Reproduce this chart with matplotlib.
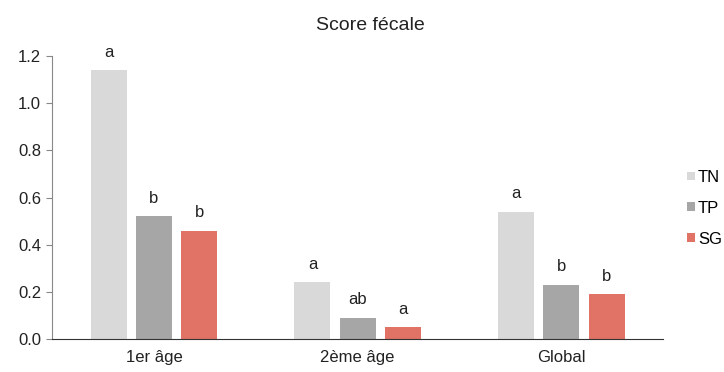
import numpy as np
import matplotlib.pyplot as plt

plt.rcParams['font.family'] = ['Liberation Sans', 'DejaVu Sans']

categories = ['1er âge', '2ème âge', 'Global']
series = ['TN', 'TP', 'SG']
values = {
    'TN': [1.14, 0.24, 0.54],
    'TP': [0.52, 0.09, 0.23],
    'SG': [0.46, 0.05, 0.19],
}
letters = {
    'TN': ['a', 'a', 'a'],
    'TP': ['b', 'ab', 'b'],
    'SG': ['b', 'a', 'b'],
}
colors = {'TN': '#D9D9D9', 'TP': '#A6A6A6', 'SG': '#E07266'}

fig = plt.figure(figsize=(7.24, 3.72), dpi=100)
ax = fig.add_axes([0.072, 0.089, 0.844, 0.760])

x = np.arange(len(categories))
width = 0.177
step = 0.222
for i, s in enumerate(series):
    pos = x + (i - 1) * step
    ax.bar(pos, values[s], width, color=colors[s], label=s)
    for xp, v, lab in zip(pos, values[s], letters[s]):
        ax.text(xp, v + 0.045, lab, ha='center', va='bottom', fontsize=12, color='#222222')

ax.set_xlim(-0.5, 2.5)
ax.set_ylim(0, 1.2)
ticks = np.arange(0, 1.21, 0.2)
ax.set_yticks(ticks)
ax.set_yticklabels([f'{t:.1f}' for t in ticks], fontsize=12, color='#222222')
ax.set_xticks(x)
ax.set_xticklabels(categories, fontsize=12, color='#222222')
ax.tick_params(axis='x', length=0, pad=8)
ax.tick_params(axis='y', length=4, color='#888888', pad=4)
for sp in ['top', 'right']:
    ax.spines[sp].set_visible(False)
ax.spines['left'].set_color('#888888')
ax.spines['bottom'].set_color('#333333')

# title is centred on the whole chart area, not on the plot
fig.text(0.512, 0.932, 'Score fécale', fontsize=14, color='#222222', ha='center', va='center')

ax.legend(loc='center left', bbox_to_anchor=(1.039, 0.462), frameon=False, fontsize=12,
          handlelength=0.45, handleheight=0.45, handletextpad=0.2, labelspacing=0.95,
          borderpad=0, borderaxespad=0)

fig.savefig('out.png', dpi=100)
